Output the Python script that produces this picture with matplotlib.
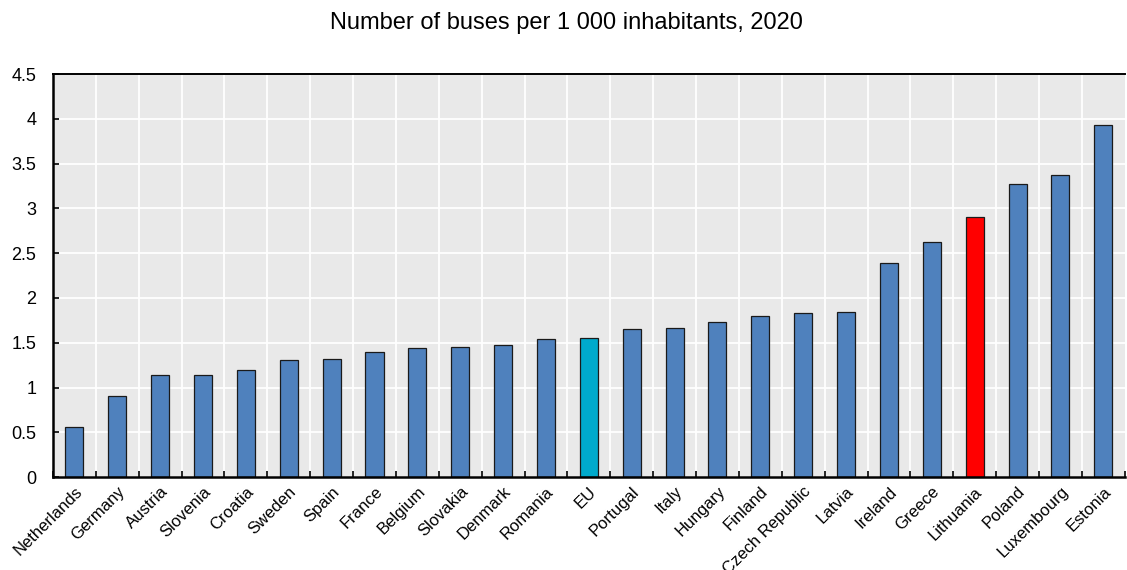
import matplotlib
matplotlib.use("Agg")
import matplotlib.pyplot as plt
import matplotlib.transforms as mtransforms
from matplotlib.ticker import FixedLocator
import numpy as np

plt.rcParams['font.family'] = ['Liberation Sans', 'DejaVu Sans']

countries = ["Netherlands", "Germany", "Austria", "Slovenia", "Croatia", "Sweden",
             "Spain", "France", "Belgium", "Slovakia", "Denmark", "Romania", "EU",
             "Portugal", "Italy", "Hungary", "Finland", "Czech Republic", "Latvia",
             "Ireland", "Greece", "Lithuania", "Poland", "Luxembourg", "Estonia"]
buses_per_1000 = [0.56, 0.91, 1.14, 1.14, 1.20, 1.31, 1.32, 1.40, 1.44, 1.45, 1.47,
                  1.54, 1.55, 1.65, 1.67, 1.73, 1.80, 1.83, 1.84, 2.39, 2.62, 2.90,
                  3.27, 3.37, 3.93]
y_ticks = [0, 0.5, 1, 1.5, 2, 2.5, 3, 3.5, 4, 4.5]
y_tick_labels = ["0", "0.5", "1", "1.5", "2", "2.5", "3", "3.5", "4", "4.5"]

base_color = "#4F81BD"
eu_color = "#00AACC"
highlight_color = "#FF0000"
colors = [eu_color if c == "EU" else highlight_color if c == "Lithuania" else base_color
          for c in countries]

fig = plt.figure(figsize=(11.27, 5.70), dpi=100)
ax = fig.add_axes([0.047, 0.163, 0.951, 0.707])
ax.set_facecolor("#E9E9E9")

x = np.arange(len(countries))
ax.bar(x, buses_per_1000, width=0.42, color=colors, edgecolor="#1a1a1a",
       linewidth=0.9, zorder=3)

ax.set_xlim(-0.5, len(countries) - 0.5)
ax.set_ylim(0, 4.5)
ax.set_yticks(y_ticks)
ax.set_yticklabels(y_tick_labels)

ax.set_xticks(x)
ax.set_xticklabels(countries, rotation=45, ha="right", rotation_mode="anchor")
ax.xaxis.set_minor_locator(FixedLocator(np.arange(-0.5, len(countries), 1.0)))

# nudge the rotated category labels slightly to the right
shift = mtransforms.ScaledTranslation(5 / 100, 0, fig.dpi_scale_trans)
for lbl in ax.get_xticklabels():
    lbl.set_transform(lbl.get_transform() + shift)

ax.grid(False)
for yv in y_ticks:
    ax.axhline(yv, color="white", linewidth=1.3, zorder=1)
for xv in np.arange(0.5, len(countries) - 0.5, 1.0):
    ax.axvline(xv, color="white", linewidth=1.3, zorder=1)

ax.tick_params(axis="x", which="major", length=0, pad=5, labelsize=12)
ax.tick_params(axis="x", which="minor", direction="in", length=4, width=1.2,
               color="black")
ax.tick_params(axis="y", direction="in", length=4, width=1.2, pad=12, labelsize=13)

for side in ["left", "bottom"]:
    ax.spines[side].set_linewidth(1.8)
    ax.spines[side].set_color("black")
ax.spines["top"].set_linewidth(1.4)
ax.spines["top"].set_color("black")
ax.spines["right"].set_visible(False)
for s in ax.spines.values():
    s.set_zorder(4)

fig.text(0.503, 0.960, "Number of buses per 1 000 inhabitants, 2020",
         ha="center", va="center", fontsize=17)

fig.savefig("out.png", dpi=100)
